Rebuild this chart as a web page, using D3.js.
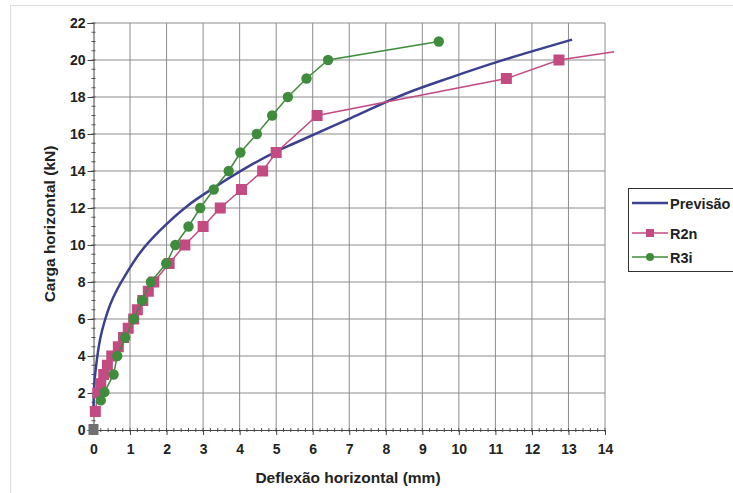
<!DOCTYPE html>
<html lang="pt">
<head>
<meta charset="UTF-8">
<title>Carga x Deflexão horizontal</title>
<script src="https://d3js.org/d3.v7.min.js"></script>
<style>
    body { margin: 0; padding: 0; background: #fff; }
    svg { display: block; font-family: "Liberation Sans", Arial, sans-serif; }
</style>
</head>
<body>
<div id="chart"></div>
<script>
// values: [deflexão (mm), carga (kN)]
const previsao = [
    [0, 1.3], [0.02, 2.4], [0.05, 3.1], [0.18, 4.9], [0.3, 5.85], [0.46, 6.8],
    [0.64, 7.57], [0.82, 8.2], [1.28, 9.6], [1.8, 10.75], [2.56, 12.1], [3.3, 13.1],
    [4.29, 14.3], [5.0, 15.05], [5.5, 15.5], [7.03, 16.85], [8.5, 18.15], [9.77, 19.05],
    [11.14, 19.95], [13.1, 21.1]
];
const r2n = [
    [0.05, 1], [0.12, 2], [0.2, 2.5], [0.28, 3], [0.38, 3.5], [0.5, 4], [0.68, 4.5],
    [0.82, 5], [0.95, 5.5], [1.1, 6], [1.2, 6.5], [1.35, 7], [1.5, 7.5], [1.65, 8],
    [2.07, 9], [2.5, 10], [3.0, 11], [3.47, 12], [4.05, 13], [4.63, 14], [5.0, 15],
    [6.12, 17], [11.3, 19], [12.74, 20], [14.25, 20.45]
];
const r3i = [
    [0.2, 1.6], [0.3, 2.05], [0.55, 3], [0.65, 4], [0.87, 5], [1.1, 6], [1.33, 7],
    [1.57, 8], [1.99, 9], [2.24, 10], [2.6, 11], [2.92, 12], [3.29, 13], [3.7, 14],
    [4.02, 15], [4.47, 16], [4.89, 17], [5.32, 18], [5.83, 19], [6.42, 20], [9.45, 21]
];
const origem = [[0, 0]];

const xTicks = d3.range(0, 15, 1);
const yTicks = d3.range(0, 23, 2);
const seriesNames = ["Previsão", "R2n", "R3i"];
const colors = { "Previsão": "#3b418f", "R2n": "#c44a82", "R3i": "#3f8c3c" };

const W = 733, H = 493;
const svg = d3.select("#chart").append("svg").attr("width", W).attr("height", H);

// outer chart border
svg.append("rect")
    .attr("x", 10.5).attr("y", 5.5).attr("width", 800).attr("height", 600)
    .attr("fill", "none").attr("stroke", "#dcdcdc");

const x = d3.scaleLinear().domain([0, 14]).range([93.5, 605]);
const y = d3.scaleLinear().domain([0, 22]).range([430, 23]);

// grid
svg.append("g").selectAll("line").data(xTicks.slice(1)).join("line")
    .attr("x1", d => x(d)).attr("x2", d => x(d))
    .attr("y1", y(0)).attr("y2", y(22))
    .attr("stroke", "#8c8c8c").attr("stroke-width", 1);
svg.append("g").selectAll("line").data(yTicks.slice(1)).join("line")
    .attr("x1", x(0)).attr("x2", x(14))
    .attr("y1", d => y(d)).attr("y2", d => y(d))
    .attr("stroke", "#8c8c8c").attr("stroke-width", 1);

// minor ticks
svg.append("g").selectAll("line").data(d3.range(0, 14.01, 0.2)).join("line")
    .attr("x1", d => x(d)).attr("x2", d => x(d))
    .attr("y1", y(0) - 2).attr("y2", y(0) + 2)
    .attr("stroke", "#555");
svg.append("g").selectAll("line").data(d3.range(0, 22.01, 0.5)).join("line")
    .attr("x1", x(0) - 2).attr("x2", x(0) + 2)
    .attr("y1", d => y(d)).attr("y2", d => y(d))
    .attr("stroke", "#555");

// axes
const xAxis = svg.append("g")
    .attr("transform", "translate(0," + y(0) + ")")
    .call(d3.axisBottom(x).tickValues(xTicks).tickSize(5).tickPadding(9).tickFormat(d3.format("d")));
const yAxis = svg.append("g")
    .attr("transform", "translate(" + x(0) + ",0)")
    .call(d3.axisLeft(y).tickValues(yTicks).tickSize(6).tickPadding(2).tickFormat(d3.format("d")));
[xAxis, yAxis].forEach(a => {
    a.select(".domain").attr("stroke", "#444");
    a.selectAll(".tick line").attr("stroke", "#444");
    a.selectAll("text")
        .attr("fill", "#222").style("font-size", "14px").style("font-weight", "bold")
        .style("font-family", "'Liberation Sans', Arial, sans-serif");
});

// axis titles
svg.append("text")
    .attr("x", 348).attr("y", 483)
    .attr("text-anchor", "middle").attr("fill", "#222")
    .style("font-size", "15.5px").style("font-weight", "bold")
    .text("Deflexão horizontal (mm)");
svg.append("text")
    .attr("transform", "translate(55,224) rotate(-90)")
    .attr("text-anchor", "middle").attr("fill", "#222")
    .style("font-size", "15.5px").style("font-weight", "bold")
    .text("Carga horizontal (kN)");

const line = d3.line().x(d => x(d[0])).y(d => y(d[1]));

// Previsão
svg.append("path").datum(previsao)
    .attr("d", line.curve(d3.curveCatmullRom.alpha(0.5)))
    .attr("fill", "none").attr("stroke", colors["Previsão"]).attr("stroke-width", 2.5);

line.curve(d3.curveLinear);

// R2n
svg.append("path").datum(r2n)
    .attr("d", line)
    .attr("fill", "none").attr("stroke", colors["R2n"]).attr("stroke-width", 1.5);
svg.append("g").selectAll("rect").data(r2n.filter(d => d[0] <= 14)).join("rect")
    .attr("x", d => x(d[0]) - 5.5).attr("y", d => y(d[1]) - 5.5)
    .attr("width", 11).attr("height", 11)
    .attr("fill", colors["R2n"]);

// R3i
svg.append("path").datum(r3i)
    .attr("d", line)
    .attr("fill", "none").attr("stroke", colors["R3i"]).attr("stroke-width", 1.5);
svg.append("g").selectAll("circle").data(r3i).join("circle")
    .attr("cx", d => x(d[0])).attr("cy", d => y(d[1])).attr("r", 5.2)
    .attr("fill", colors["R3i"]);

// ponto na origem
svg.append("g").selectAll("rect").data(origem).join("rect")
    .attr("x", d => x(d[0]) - 5).attr("y", d => y(d[1]) - 6)
    .attr("width", 10).attr("height", 11)
    .attr("fill", "#707070");

// legend
const legend = svg.append("g").attr("transform", "translate(628,188)");
legend.append("rect")
    .attr("x", 0.5).attr("y", 0.5).attr("width", 200).attr("height", 83)
    .attr("fill", "#fff").attr("stroke", "#333");
const entry = legend.selectAll("g.entry").data(seriesNames).join("g")
    .attr("class", "entry")
    .attr("transform", (d, i) => "translate(0," + [15, 45, 69][i] + ")");
entry.append("line")
    .attr("x1", 4).attr("x2", 40).attr("y1", 0).attr("y2", 0)
    .attr("stroke", d => colors[d]).attr("stroke-width", d => d === "Previsão" ? 2.5 : 1.5);
entry.filter(d => d === "R2n").append("rect")
    .attr("x", 18).attr("y", -4).attr("width", 8).attr("height", 8)
    .attr("fill", colors["R2n"]);
entry.filter(d => d === "R3i").append("circle")
    .attr("cx", 22).attr("cy", 0).attr("r", 4)
    .attr("fill", colors["R3i"]);
entry.append("text")
    .attr("x", 42).attr("y", 5.5)
    .attr("fill", "#222").style("font-size", "14.5px").style("font-weight", "bold")
    .text(d => d);
</script>
</body>
</html>
